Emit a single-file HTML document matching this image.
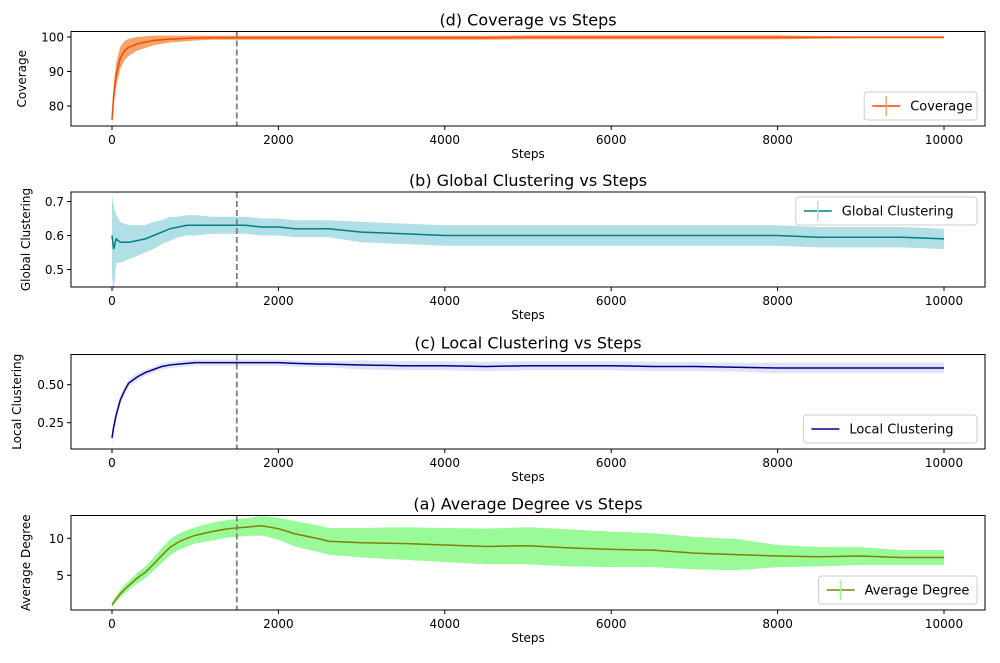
<!DOCTYPE html>
<html><head><meta charset="utf-8"><style>
body{margin:0;background:#fff;font-family:"Liberation Sans",sans-serif}
svg text{font-family:"DejaVu Sans","Liberation Sans",sans-serif;font-size:12px;fill:#000}
</style></head><body>
<svg id="c" width="1000" height="658"></svg>
<script>
const steps=[0,20,50,100,150,200,300,400,500,600,700,800,900,1000,1200,1400,1500,1600,1800,2000,2200,2500,2600,3000,3500,4000,4500,5000,5500,6000,6500,7000,7500,8000,8500,9000,9500,10000];
const covMean=[76,83,89,94,96,97,98,98.5,99,99.2,99.4,99.5,99.6,99.7,99.8,99.8,99.8,99.8,99.8,99.8,99.8,99.8,99.8,99.8,99.8,99.8,99.8,99.9,99.9,99.9,99.9,99.9,99.9,99.9,99.9,99.9,99.9,99.9];
const covErr=[1.5,3,3.5,3.2,2.8,2.5,2,1.7,1.4,1.2,1,0.9,0.8,0.7,0.6,0.6,0.6,0.6,0.6,0.6,0.6,0.6,0.6,0.6,0.6,0.6,0.6,0.6,0.6,0.6,0.6,0.6,0.6,0.6,0.4,0.3,0.3,0.3];
const gcMean=[0.6,0.56,0.59,0.58,0.58,0.58,0.585,0.59,0.6,0.61,0.62,0.625,0.63,0.63,0.63,0.63,0.63,0.63,0.625,0.625,0.62,0.62,0.62,0.61,0.605,0.6,0.6,0.6,0.6,0.6,0.6,0.6,0.6,0.6,0.595,0.595,0.595,0.59];
const gcErr=[0.12,0.13,0.07,0.06,0.055,0.05,0.045,0.04,0.04,0.035,0.035,0.03,0.03,0.03,0.025,0.025,0.025,0.025,0.025,0.025,0.025,0.025,0.025,0.03,0.03,0.03,0.03,0.03,0.03,0.03,0.03,0.03,0.03,0.03,0.03,0.03,0.03,0.03];
const lcMean=[0.15,0.22,0.3,0.4,0.46,0.51,0.55,0.58,0.6,0.62,0.63,0.635,0.64,0.645,0.645,0.645,0.645,0.645,0.645,0.645,0.64,0.635,0.635,0.63,0.625,0.625,0.62,0.625,0.625,0.625,0.62,0.62,0.615,0.61,0.61,0.61,0.61,0.61];
const lcErr=[0.05,0.04,0.03,0.03,0.03,0.025,0.025,0.02,0.02,0.02,0.02,0.02,0.02,0.02,0.02,0.02,0.02,0.02,0.02,0.02,0.02,0.02,0.02,0.03,0.03,0.03,0.03,0.03,0.03,0.03,0.03,0.03,0.03,0.035,0.035,0.035,0.035,0.035];
const adMean=[1,1.3,1.8,2.5,3.1,3.6,4.6,5.4,6.5,7.7,8.8,9.5,10,10.4,10.9,11.3,11.4,11.5,11.7,11.3,10.6,9.9,9.6,9.4,9.3,9.1,8.9,9,8.7,8.5,8.4,8,7.8,7.6,7.5,7.6,7.4,7.4];
const adErr=[0.3,0.3,0.4,0.5,0.6,0.6,0.7,0.8,0.9,1,1.1,1.1,1.1,1.1,1.2,1.2,1.2,1.2,1.3,1.5,1.7,1.8,1.8,2,2.2,2.3,2.4,2.5,2.5,2.4,2.3,2.2,2.1,1.5,1.3,1.2,1,1];
const xTicks=[0,2000,4000,6000,8000,10000];
const panels=[
 {name:'coverage',title:'(d) Coverage vs Steps',ylab:'Coverage',top:31.5,bot:126,y0:100,p0:37,y1:80,p1:106,ticks:[80,90,100],tl:['80','90','100'],mean:covMean,err:covErr,line:'#ff4500',fill:'#f4a46a',leg:'Coverage',legPos:'br',errbar:true},
 {name:'global-clustering',title:'(b) Global Clustering vs Steps',ylab:'Global Clustering',top:192,bot:287,y0:0.7,p0:201.5,y1:0.5,p1:269.5,ticks:[0.5,0.6,0.7],tl:['0.5','0.6','0.7'],mean:gcMean,err:gcErr,line:'#008080',fill:'#b0dfe5',leg:'Global Clustering',legPos:'tr',errbar:true},
 {name:'local-clustering',title:'(c) Local Clustering vs Steps',ylab:'Local Clustering',top:354.5,bot:449,y0:0.5,p0:384.7,y1:0.25,p1:422.7,ticks:[0.25,0.5],tl:['0.25','0.50'],mean:lcMean,err:lcErr,line:'#00008b',fill:'#e2e2f8',leg:'Local Clustering',legPos:'br',errbar:false},
 {name:'average-degree',title:'(a) Average Degree vs Steps',ylab:'Average Degree',top:515.5,bot:610,y0:10,p0:538.3,y1:5,p1:575.3,ticks:[5,10],tl:['5','10'],mean:adMean,err:adErr,line:'#808000',fill:'#98fb98',leg:'Average Degree',legPos:'br',errbar:true}
];
const svg=document.getElementById('c');
const NS='http://www.w3.org/2000/svg';
const L=71,R=985;
function X(v){return 112+v*(944-112)/10000;}
function mk(t,a,p){const e=document.createElementNS(NS,t);for(const k in a)e.setAttribute(k,a[k]);(p||svg).appendChild(e);return e;}
panels.forEach(P=>{
 const Y=v=>P.p0+(v-P.y0)*(P.p1-P.p0)/(P.y1-P.y0);
 const g=mk('g',{});
 
 
 let up='',dn='';
 steps.forEach((s,i)=>{up+=(i?'L':'M')+X(s)+','+Y(P.mean[i]+P.err[i]);});
 for(let i=steps.length-1;i>=0;i--)dn+='L'+X(steps[i])+','+Y(P.mean[i]-P.err[i]);
 const band=mk('path',{d:up+dn+'Z',fill:P.fill},g);
 
 
 let d='';steps.forEach((s,i)=>{d+=(i?'L':'M')+X(s)+','+Y(P.mean[i]);});
 const ln=mk('path',{d:d,fill:'none',stroke:P.line,'stroke-width':1.5},g);
 
 
 const vl=mk('line',{x1:X(1500),x2:X(1500),y1:P.top,y2:P.bot,stroke:'#808080','stroke-width':1.8,'stroke-dasharray':'6,3'},g);
 
 
 mk('rect',{x:L,y:P.top,width:R-L,height:P.bot-P.top,fill:'none',stroke:'#000','stroke-width':1},g);
 xTicks.forEach(t=>{mk('line',{x1:X(t),x2:X(t),y1:P.bot,y2:P.bot+4,stroke:'#000'},g);
  const tx=mk('text',{x:X(t),y:P.bot+18,'text-anchor':'middle'},g);tx.textContent=t;
  
  });
 P.ticks.forEach((t,i)=>{mk('line',{x1:L-4,x2:L,y1:Y(t),y2:Y(t),stroke:'#000'},g);
  const tx=mk('text',{x:L-7,y:Y(t)+4.5,'text-anchor':'end'},g);tx.textContent=P.tl[i];
  
  });
 const xl=mk('text',{x:(L+R)/2,y:P.bot+32,'text-anchor':'middle'},g);xl.textContent='Steps';
 
 
 const yl=mk('text',{x:0,y:0,'text-anchor':'middle',transform:`translate(${P.name==='local-clustering'?21:P.name==='coverage'?26:30},${(P.top+P.bot)/2}) rotate(-90)`},g);yl.textContent=P.ylab;
 
 
 const ti=mk('text',{x:(L+R)/2,y:P.top-6,'text-anchor':'middle',style:'font-size:16px'},g);ti.textContent=P.title;
 
 
 const w=P.leg.length*7.6+52,h=28;
 const lx=R-8-w, ly=P.legPos==='tr'?P.top+5:P.bot-6-h;
 const lg=mk('g',{},g);
 
 
 mk('rect',{x:lx,y:ly,width:w,height:h,rx:3,fill:'#fff','fill-opacity':0.85,stroke:'#ccc'},lg);
 mk('line',{x1:lx+8,x2:lx+36,y1:ly+14,y2:ly+14,stroke:P.line,'stroke-width':1.5},lg);
 if(P.errbar)mk('line',{x1:lx+22,x2:lx+22,y1:ly+4,y2:ly+24,stroke:P.fill,'stroke-width':1.5},lg);
 const lt=mk('text',{x:lx+46,y:ly+18.5,style:'font-size:13px'},lg);lt.textContent=P.leg;
});
</script>
</body></html>
